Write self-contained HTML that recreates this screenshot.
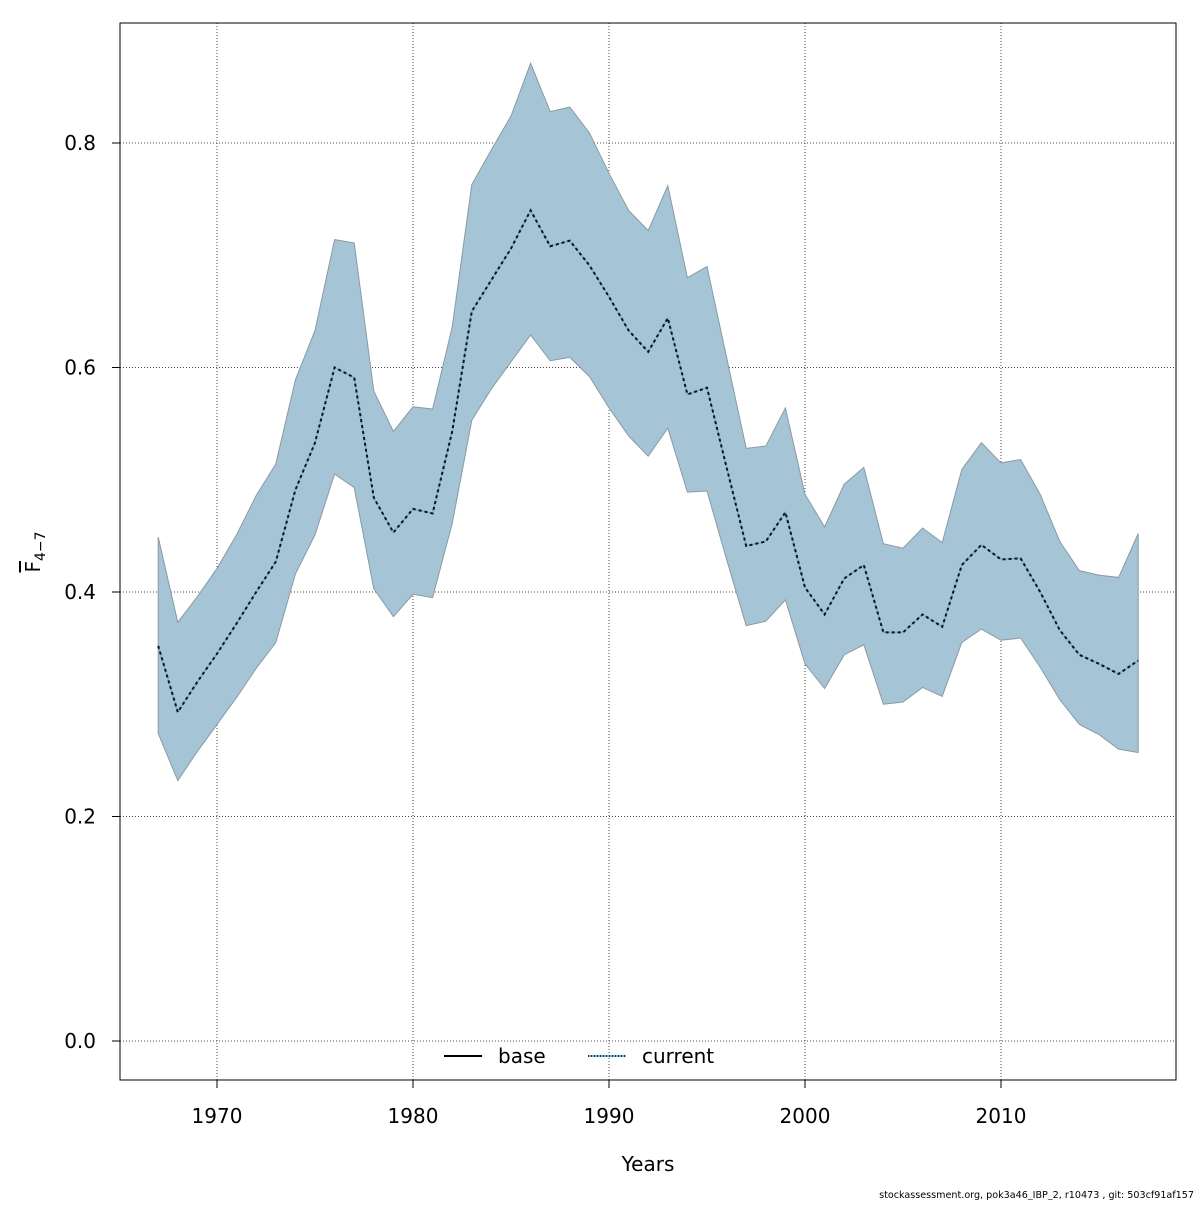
<!DOCTYPE html>
<html><head><meta charset="utf-8"><style>
html,body{margin:0;padding:0;background:#fff;}
svg text{font-family:"DejaVu Sans","Liberation Sans",sans-serif;}
</style></head><body>
<svg id="chart" width="1200" height="1200" viewBox="0 0 1200 1200" xmlns="http://www.w3.org/2000/svg">
<rect width="1200" height="1200" fill="#fff"/>
<g id="grid"></g>
<g id="band"></g>
<g id="lines"></g>
<rect x="120" y="23" width="1056" height="1057" fill="none" stroke="#000" stroke-width="1"/>
<g id="xticks"></g>
<g id="yticks"></g>
<text x="648" y="1171" font-size="20" text-anchor="middle">Years</text>
<text transform="translate(40,552) rotate(-90)" font-size="20" text-anchor="middle"><tspan text-decoration="overline">F</tspan><tspan font-size="14" dy="5">4−7</tspan></text>
<g>
<line x1="444" y1="1056" x2="482" y2="1056" stroke="#000" stroke-width="2"/>
<text x="498" y="1063" font-size="20">base</text>
<line x1="588" y1="1056" x2="626" y2="1056" stroke="#6ab4e0" stroke-width="2"/>
<line x1="588" y1="1056" x2="626" y2="1056" stroke="#1a3550" stroke-width="2" stroke-dasharray="1,2"/>
<text x="642" y="1063" font-size="20">current</text>
</g>
<text x="1194" y="1198" font-size="9.6" text-anchor="end">stockassessment.org, pok3a46_IBP_2, r10473 , git: 503cf91af157</text>
</svg>
<script>
const years=[];for(let y=1967;y<=2017;y++)years.push(y);
const estimate=[0.352,0.293,0.320,0.345,0.372,0.400,0.427,0.491,0.533,0.600,0.591,0.484,0.453,0.474,0.470,0.543,0.650,0.678,0.706,0.740,0.708,0.713,0.691,0.663,0.633,0.614,0.644,0.576,0.582,0.511,0.441,0.445,0.471,0.404,0.380,0.412,0.424,0.364,0.364,0.380,0.369,0.424,0.442,0.429,0.430,0.400,0.366,0.344,0.336,0.327,0.339];
const upper=[0.449,0.373,0.396,0.421,0.451,0.486,0.514,0.589,0.633,0.714,0.711,0.579,0.543,0.565,0.563,0.636,0.763,0.794,0.824,0.871,0.828,0.832,0.809,0.773,0.740,0.722,0.762,0.680,0.690,0.609,0.528,0.530,0.564,0.487,0.458,0.496,0.511,0.443,0.439,0.457,0.444,0.509,0.533,0.515,0.518,0.487,0.445,0.419,0.415,0.413,0.452];
const lower=[0.274,0.232,0.258,0.282,0.306,0.332,0.355,0.416,0.451,0.505,0.493,0.403,0.378,0.398,0.395,0.461,0.553,0.581,0.605,0.629,0.606,0.609,0.592,0.564,0.539,0.521,0.546,0.489,0.490,0.429,0.370,0.374,0.393,0.336,0.314,0.344,0.353,0.300,0.302,0.315,0.307,0.355,0.367,0.357,0.359,0.333,0.304,0.282,0.273,0.260,0.257];
const xTicks=[1970,1980,1990,2000,2010];
const yTicks=[0.0,0.2,0.4,0.6,0.8];
const yTickLabels=["0.0","0.2","0.4","0.6","0.8"];
const NS="http://www.w3.org/2000/svg";
function X(v){return 217+(v-1970)*19.6;}
function Y(v){return 1041-v*1122.5;}
function mk(tag,attrs,parent){const e=document.createElementNS(NS,tag);for(const k in attrs)e.setAttribute(k,attrs[k]);parent.appendChild(e);return e;}
const grid=document.getElementById('grid'),band=document.getElementById('band'),lines=document.getElementById('lines'),xt=document.getElementById('xticks'),yt=document.getElementById('yticks');
xTicks.forEach(t=>{
 const g=mk('line',{x1:X(t),x2:X(t),y1:23,y2:1080,stroke:'#444','stroke-width':1,'stroke-dasharray':'1,2'},grid);
 
 
 const tk=mk('line',{x1:X(t),x2:X(t),y1:1080,y2:1088,stroke:'#000'},xt);
 
 
 const tx=mk('text',{x:X(t),y:1123,'font-size':20,'text-anchor':'middle'},xt);tx.textContent=t;
 
 
});
yTicks.forEach((t,i)=>{
 const g=mk('line',{x1:120,x2:1176,y1:Y(t),y2:Y(t),stroke:'#444','stroke-width':1,'stroke-dasharray':'1,2'},grid);
 
 
 const tk=mk('line',{x1:112,x2:120,y1:Y(t),y2:Y(t),stroke:'#000'},yt);
 
 
 const tx=mk('text',{x:96,y:Y(t)+7,'font-size':20,'text-anchor':'end'},yt);tx.textContent=yTickLabels[i];
 
 
});
let pts=years.map((y,i)=>X(y)+','+Y(upper[i]));
for(let i=years.length-1;i>=0;i--)pts.push(X(years[i])+','+Y(lower[i]));
const poly=mk('polygon',{points:pts.join(' '),fill:'#a5c4d6',stroke:'#8a9aa4','stroke-width':1},band);


const lp=years.map((y,i)=>X(y)+','+Y(estimate[i])).join(' ');
const l1=mk('polyline',{points:lp,fill:'none',stroke:'#6ab4e0','stroke-width':1.5},lines);


const l2=mk('polyline',{points:lp,fill:'none',stroke:'#111','stroke-width':2,'stroke-dasharray':'3,3'},lines);


</script>
</body></html>
